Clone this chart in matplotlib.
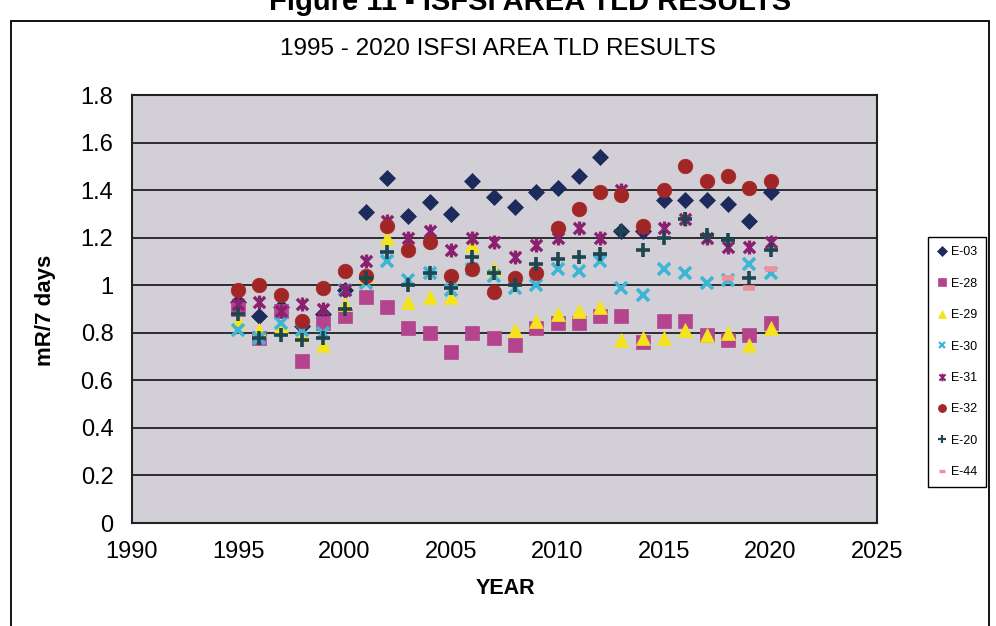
"""Recreate the 1995-2020 ISFSI area TLD results scatter chart."""

import matplotlib
matplotlib.use("Agg")
import matplotlib.pyplot as plt
from matplotlib.lines import Line2D
from matplotlib.patches import Rectangle
from matplotlib.path import Path
from matplotlib import font_manager

years = list(range(1995, 2021))

e03 = [0.93, 0.87, 0.91, 0.83, 0.88, 0.98, 1.31, 1.45, 1.29, 1.35, 1.30, 1.44, 1.37,
       1.33, 1.39, 1.41, 1.46, 1.54, 1.23, 1.23, 1.36, 1.36, 1.36, 1.34, 1.27, 1.39]
e28 = [0.90, 0.78, 0.89, 0.68, 0.84, 0.87, 0.95, 0.91, 0.82, 0.80, 0.72, 0.80, 0.78,
       0.75, 0.82, 0.84, 0.84, 0.87, 0.87, 0.76, 0.85, 0.85, 0.79, 0.77, 0.79, 0.84]
e29 = [0.85, 0.81, 0.83, 0.79, 0.75, 0.92, 1.04, 1.20, 0.93, 0.95, 0.95, 1.17, 1.07,
       0.81, 0.85, 0.88, 0.89, 0.91, 0.77, 0.78, 0.78, 0.81, 0.79, 0.80, 0.75, 0.82]
e30 = [0.81, 0.78, 0.84, 0.81, 0.80, 0.98, 1.01, 1.10, 1.02, 1.05, 0.98, 1.07, 1.04,
       0.99, 1.00, 1.07, 1.06, 1.10, 0.99, 0.96, 1.07, 1.05, 1.01, 1.02, 1.09, 1.05]
e31 = [0.92, 0.93, 0.89, 0.92, 0.90, 0.98, 1.10, 1.27, 1.20, 1.23, 1.15, 1.20, 1.18,
       1.12, 1.17, 1.20, 1.24, 1.20, 1.40, 1.24, 1.24, 1.28, 1.20, 1.16, 1.16, 1.18]
e32 = [0.98, 1.00, 0.96, 0.85, 0.99, 1.06, 1.04, 1.25, 1.15, 1.18, 1.04, 1.07, 0.97,
       1.03, 1.05, 1.24, 1.32, 1.39, 1.38, 1.25, 1.40, 1.50, 1.44, 1.46, 1.41, 1.44]
e20 = [0.88, 0.78, 0.79, 0.77, 0.78, 0.90, 1.03, 1.14, 1.00, 1.05, 0.99, 1.12, 1.05,
       1.00, 1.09, 1.11, 1.12, 1.13, 1.23, 1.15, 1.20, 1.28, 1.21, 1.19, 1.03, 1.15]
e44_years = [2018, 2019, 2020]
e44 = [1.03, 0.99, 1.07]

x_ticks = [1990, 1995, 2000, 2005, 2010, 2015, 2020, 2025]
y_ticks = [0, 0.2, 0.4, 0.6, 0.8, 1.0, 1.2, 1.4, 1.6, 1.8]
y_tick_labels = ["0", "0.2", "0.4", "0.6", "0.8", "1", "1.2", "1.4", "1.6", "1.8"]

# Excel-style asterisk: an X with a vertical bar
star = Path(
    [(-0.5, -0.5), (0.5, 0.5), (-0.5, 0.5), (0.5, -0.5), (0, -0.62), (0, 0.62)],
    [Path.MOVETO, Path.LINETO, Path.MOVETO, Path.LINETO, Path.MOVETO, Path.LINETO],
)

series = [
    ("E-03", years, e03, dict(marker="D", color="#1c2b5c", ms=8.5, mew=0.5)),
    ("E-28", years, e28, dict(marker="s", color="#b5448f", ms=10, mew=0.5)),
    ("E-29", years, e29, dict(marker="^", color="#f4e41e", ms=10.5, mew=0.5)),
    ("E-30", years, e30, dict(marker="x", color="#3db6d6", ms=9, mew=2.6)),
    ("E-31", years, e31, dict(marker=star, color="#8a2070", ms=10, mew=2.4)),
    ("E-32", years, e32, dict(marker="o", color="#a32626", ms=10.5, mew=0.5)),
    ("E-20", years, e20, dict(marker="+", color="#1e4650", ms=10, mew=2.6)),
    ("E-44", e44_years, e44, dict(marker="_", color="#f0909a", ms=8, mew=4)),
]

narrow = "Liberation Sans Narrow"
names = {f.name for f in font_manager.fontManager.ttflist}
title_family = narrow if narrow in names else "Liberation Sans"
title_size = 20 if narrow in names else 17.5

plt.rcParams["font.family"] = ["Liberation Sans", "DejaVu Sans"]

fig = plt.figure(figsize=(9.96, 6.26), dpi=100)
fig.patch.set_facecolor("white")

# outer frame of the report figure, open at the bottom
fig.patches.append(Rectangle((0.011, -0.1), 0.982, 1.0665, transform=fig.transFigure,
                             fill=False, edgecolor="black", linewidth=1.3))

fig.text(0.532, 1 - 10 / 626, "Figure 11 - ISFSI AREA TLD RESULTS", ha="center",
         va="baseline", fontsize=21, fontweight="bold")
fig.text(0.5, 1 - 49 / 626, "1995 - 2020 ISFSI AREA TLD RESULTS", ha="center",
         va="center", fontsize=title_size, family=title_family)

ax = fig.add_axes([131.5 / 996, 1 - 523 / 626, (877 - 131.5) / 996, (523 - 95) / 626])
ax.set_facecolor("#d2cfd6")

for label, xs, ys, style in series:
    ax.plot(xs, ys, linestyle="none", marker=style["marker"], markersize=style["ms"],
            markerfacecolor=style["color"], markeredgecolor=style["color"],
            markeredgewidth=style["mew"], label=label, zorder=3)

ax.set_xlim(1990, 2025)
ax.set_ylim(0, 1.8)
ax.set_xticks(x_ticks)
ax.set_yticks(y_ticks)
ax.set_yticklabels(y_tick_labels)
ax.tick_params(length=0, labelsize=17, pad=13)
ax.grid(axis="y", color="black", linewidth=1.1, zorder=1)
ax.set_axisbelow(True)
for spine in ax.spines.values():
    spine.set_linewidth(1.5)
    spine.set_color("#222222")

fig.text(45 / 996, 1 - 310 / 626, "mR/7 days", rotation=90, ha="center", va="center",
         fontsize=16, fontweight="bold")
fig.text(505 / 996, 1 - 588 / 626, "YEAR", ha="center", va="center", fontsize=15.5,
         fontweight="bold")

handles = [
    Line2D([], [], linestyle="none", marker=s["marker"], markersize=s["ms"] * 0.55,
           markerfacecolor=s["color"], markeredgecolor=s["color"],
           markeredgewidth=max(s["mew"] * 0.6, 0.5))
    for _, _, _, s in series
]
leg = fig.legend(handles, [name for name, *_ in series], loc="upper left",
                 bbox_to_anchor=(928 / 996, 1 - 237 / 626), fontsize=9,
                 labelspacing=1.55, handlelength=0.7, handletextpad=0.35,
                 borderpad=0.75, borderaxespad=0, fancybox=False, framealpha=1,
                 edgecolor="black")
leg.get_frame().set_linewidth(1.0)

fig.savefig("out.png", dpi=100)
